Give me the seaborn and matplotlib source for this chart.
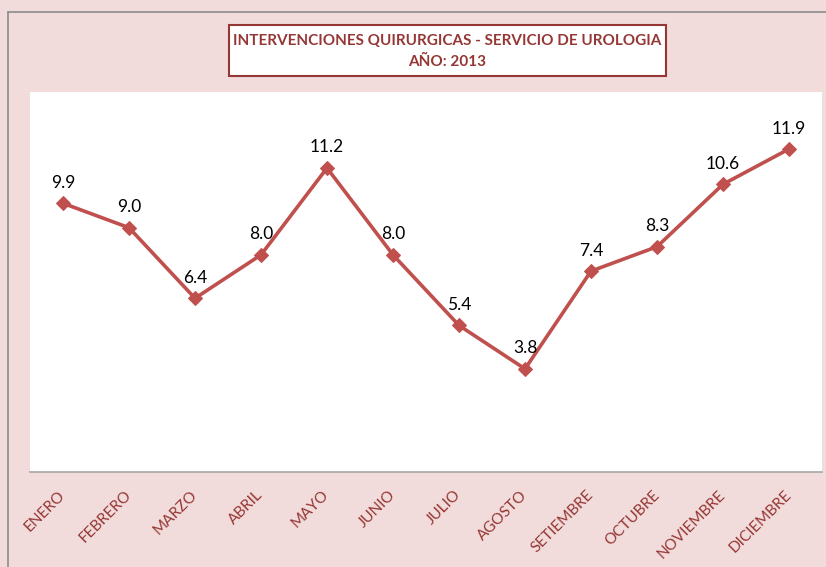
"""Monthly surgical interventions - urology service, 2013."""

import matplotlib
matplotlib.use("Agg")
import matplotlib.pyplot as plt
import pandas as pd
import seaborn as sns
from matplotlib.lines import Line2D
from matplotlib.patches import Rectangle

months = ["ENERO", "FEBRERO", "MARZO", "ABRIL", "MAYO", "JUNIO", "JULIO",
          "AGOSTO", "SETIEMBRE", "OCTUBRE", "NOVIEMBRE", "DICIEMBRE"]
values = [9.9, 9.0, 6.4, 8.0, 11.2, 8.0, 5.4, 3.8, 7.4, 8.3, 10.6, 11.9]

title_lines = ["INTERVENCIONES QUIRURGICAS - SERVICIO DE UROLOGIA", "AÑO: 2013"]

BG = "#F2DCDB"
LINE = "#C0504D"
DARK_RED = "#953735"

sns.set_theme(style="white")
plt.rcParams["font.family"] = ["Lato", "DejaVu Sans"]

df = pd.DataFrame({"mes": months, "valor": values})

W, H = 826, 567
fig = plt.figure(figsize=(W / 100, H / 100), dpi=100, facecolor=BG)
ax = fig.add_axes([30 / W, (H - 472) / H, 792 / W, 380 / H])
ax.set_facecolor("white")

sns.lineplot(data=df, x="mes", y="valor", sort=False, ax=ax, color=LINE,
             linewidth=2.6, marker="D", markersize=7.5, markeredgecolor=LINE)

for i, v in enumerate(values):
    ax.annotate(f"{v:.1f}", (i, v), xytext=(0, 9), textcoords="offset points",
                ha="center", va="bottom", fontsize=12.5, color="black")

ax.set_xlim(-0.5, len(months) - 0.5)
ax.set_ylim(0, 14)
ax.set_yticks([])
ax.set_xlabel("")
ax.set_ylabel("")
for side in ("top", "left", "right"):
    ax.spines[side].set_visible(False)
ax.spines["bottom"].set_color("#A6A6A6")
ax.spines["bottom"].set_linewidth(1.2)

ax.tick_params(axis="x", length=0, pad=15, colors=DARK_RED, labelsize=11)
for lbl in ax.get_xticklabels():
    lbl.set_rotation(45)
    lbl.set_ha("right")
    lbl.set_va("center")
    lbl.set_rotation_mode("anchor")

# outer chart border (left and top edges visible)
fig.add_artist(Line2D([8 / W, 8 / W], [0, 1 - 12 / H], transform=fig.transFigure,
                      color="#8C8C8C", lw=1.2))
fig.add_artist(Line2D([8 / W, 1], [1 - 12 / H, 1 - 12 / H], transform=fig.transFigure,
                      color="#8C8C8C", lw=1.2))

# title box
fig.add_artist(Rectangle((229 / W, 1 - 76 / H), 437 / W, 51 / H, transform=fig.transFigure,
                         facecolor="white", edgecolor=DARK_RED, lw=1.5))
fig.text(447.5 / W, 1 - 41 / H, title_lines[0], ha="center", va="center",
         fontsize=11, fontweight="bold", color=DARK_RED)
fig.text(447.5 / W, 1 - 62 / H, title_lines[1], ha="center", va="center",
         fontsize=11, fontweight="bold", color=DARK_RED)

fig.savefig("out.png", dpi=100, facecolor=BG)
